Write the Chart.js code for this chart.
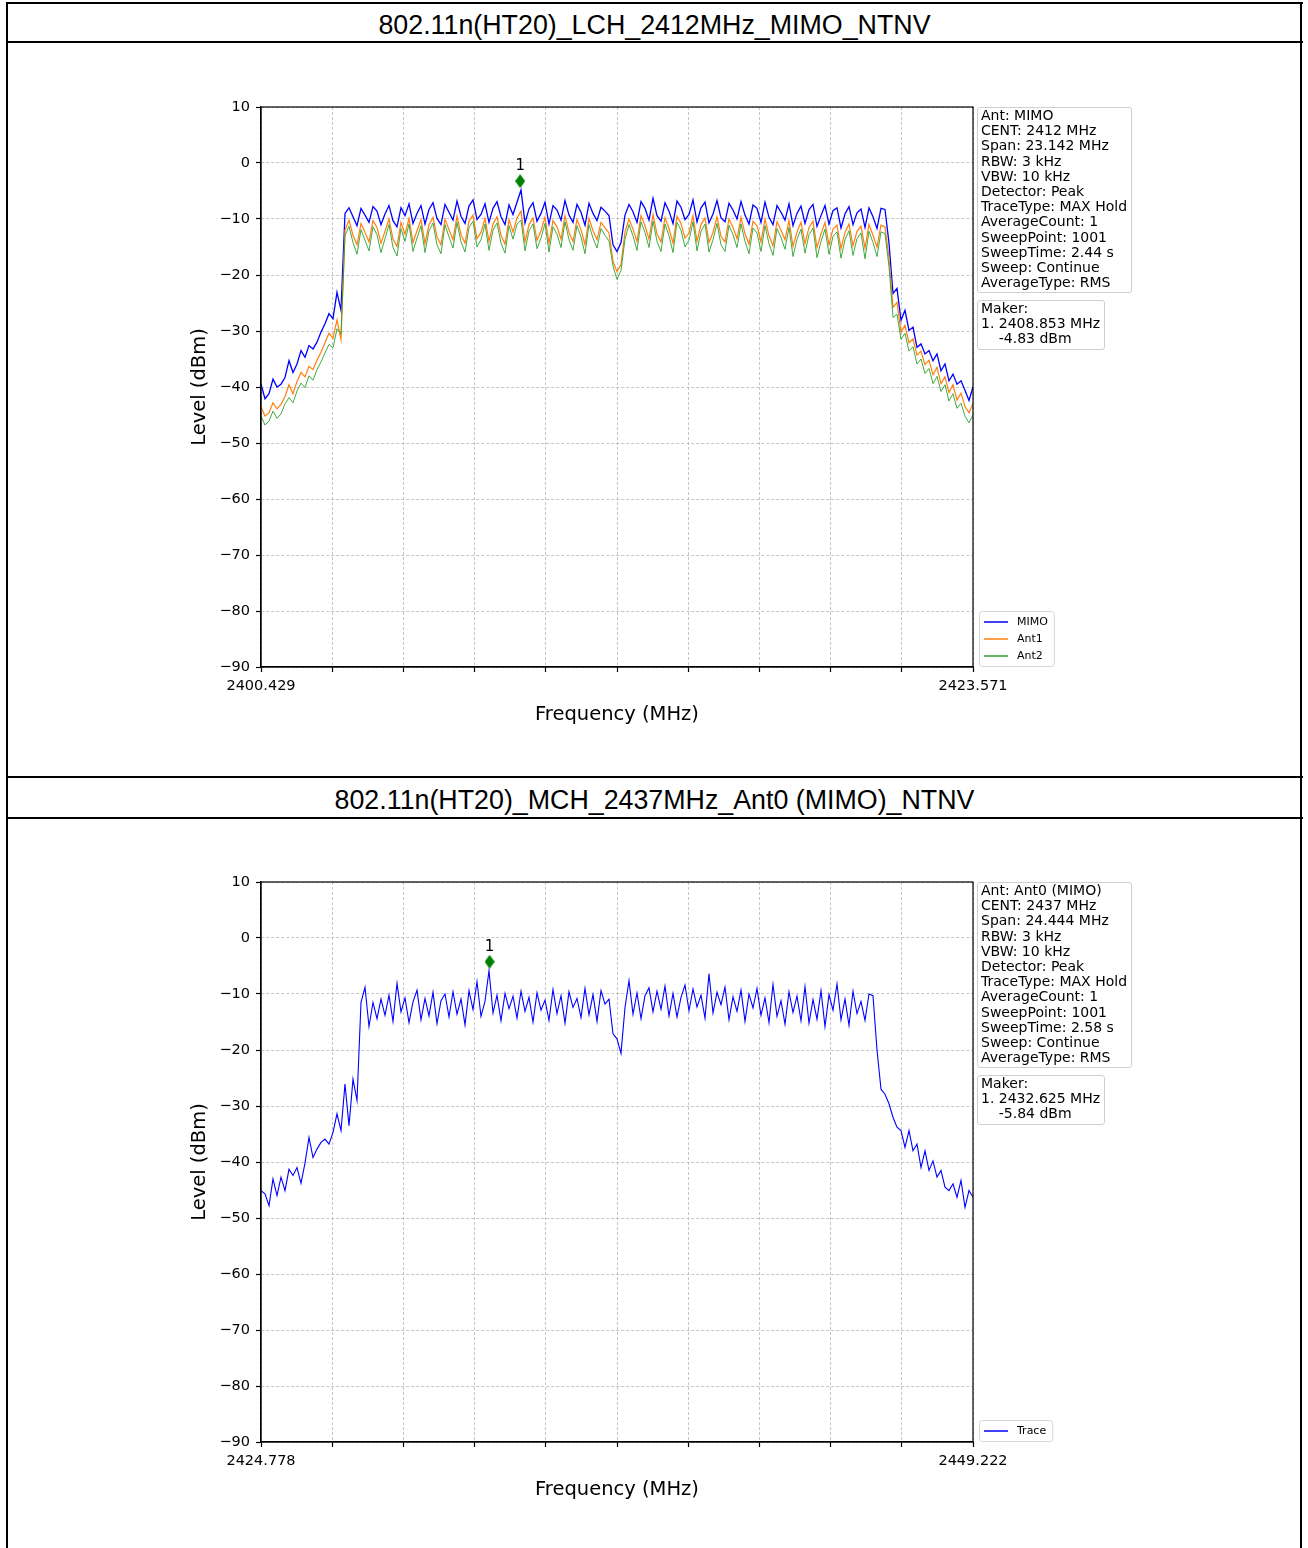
<!DOCTYPE html>
<html>
<head>
<meta charset="utf-8">
<script src="https://cdn.jsdelivr.net/npm/chart.js@4.4.1/dist/chart.umd.min.js"></script>
<style>
  body { margin: 0; width: 1308px; height: 1548px; overflow: hidden; background: #fff; position: relative; font-family: "DejaVu Sans", sans-serif; }
  .hline { position: absolute; left: 6px; width: 1297px; height: 2px; background: #000; }
  .vline { position: absolute; top: 2px; width: 2px; height: 1546px; background: #000; }
  .title { position: absolute; left: 8px; width: 1293px; height: 38px; line-height: 38px; text-align: center; font-family: "Liberation Sans", Arial, sans-serif; font-size: 26.8px; color: #000; }
  canvas { position: absolute; left: 8px; }
  .box { position: absolute; left: 977px; border: 1px solid #cfcfcf; border-radius: 3px; padding: 0 4px 2px 3px; font-size: 14px; line-height: 15.2px; white-space: pre; background: #fff; color: #000; }
</style>
</head>
<body>
<div class="hline" style="top:2px"></div>
<div class="hline" style="top:41px"></div>
<div class="hline" style="top:776px"></div>
<div class="hline" style="top:817px"></div>
<div class="vline" style="left:6px"></div>
<div class="vline" style="left:1300px"></div>

<div class="title" id="title1" style="top:6px"></div>
<canvas id="chart1" width="1293" height="731" style="top:45px"></canvas>
<div class="box" id="info1" style="top:107px"></div>
<div class="box" id="mark1" style="top:300px"></div>

<div class="title" id="title2" style="top:781px"></div>
<canvas id="chart2" width="1293" height="728" style="top:820px"></canvas>
<div class="box" id="info2" style="top:882px"></div>
<div class="box" id="mark2" style="top:1075px"></div>

<script>
// ---- chart 1 : LCH 2412 MHz, MIMO ----
const title1 = '802.11n(HT20)_LCH_2412MHz_MIMO_NTNV';
const freqRange1 = [2400.429, 2423.571];
const mimo1 = [
    -39.5, -42.1, -41.2, -38.6, -40.0, -39.5, -38.3, -35.3, -37.4, -35.9, -33.5, -34.7, -32.6, -33.2, -32.0, -30.2, -28.7, -26.9, -27.8, -23.1, -26.3,
    -9.0, -8.0, -9.6, -11.2, -8.1, -9.3, -10.6, -7.8, -8.6, -11.0,
    -9.1, -7.6, -10.3, -11.4, -8.0, -9.4, -7.3, -10.8, -9.0, -7.6,
    -10.9, -8.3, -7.1, -9.9, -11.0, -7.4, -8.8, -10.2, -6.8, -9.5,
    -10.8, -7.7, -6.6, -10.1, -9.2, -7.3, -10.6, -8.1, -6.9, -9.6,
    -11.0, -7.5, -9.2, -7.0, -4.83, -10.7, -8.2, -7.1, -10.4, -9.0,
    -7.0, -10.9, -7.6, -8.4, -10.2, -6.7, -9.3, -10.6, -7.4, -8.8,
    -11.1, -7.2, -9.0, -10.3, -7.9, -8.6, -9.4, -14.6, -15.8, -14.2,
    -9.3, -7.4, -8.7, -10.6, -6.9, -8.1, -10.2, -6.3, -9.4, -10.4,
    -7.1, -8.6, -10.8, -6.8, -7.9, -10.1, -9.2, -6.6, -10.5, -8.0,
    -7.0, -10.7, -9.1, -6.7, -9.8, -10.5, -7.2, -8.4, -10.0, -6.9,
    -9.3, -10.9, -7.5, -8.1, -10.6, -7.0, -9.7, -11.0, -7.6, -8.8,
    -10.2, -7.3, -11.2, -9.0, -7.7, -10.8, -8.3, -7.4, -11.3, -9.4,
    -7.6, -10.9, -8.5, -8.0, -11.6, -9.1, -7.8, -11.0, -8.9, -8.2,
    -11.5, -8.0, -9.6, -11.7, -8.1, -8.3, -14.3, -23.3, -22.4, -28.1,
    -26.3, -29.9, -29.3, -32.9, -32.3, -34.1, -33.5, -35.3, -34.1, -37.1,
    -35.9, -38.9, -37.7, -39.5, -38.9, -40.6, -42.4, -40.0
];
const ant1 = [
    -43.5, -45.2, -44.6, -42.8, -43.9, -43.1, -41.7, -39.6, -41.2, -39.0, -37.4, -38.2, -36.3, -36.9, -35.2, -33.8, -32.1, -30.4, -31.3, -28.0, -31.5,
    -12.0, -10.2, -12.9, -14.6, -10.8, -12.4, -14.1, -10.3, -11.5, -14.3,
    -12.2, -10.0, -13.6, -14.9, -10.6, -12.7, -9.9, -14.2, -12.1, -10.1,
    -14.4, -11.0, -9.7, -13.2, -14.6, -10.0, -11.9, -13.7, -9.5, -12.8,
    -14.3, -10.4, -9.3, -13.5, -12.4, -9.9, -14.0, -10.9, -9.6, -12.9,
    -14.5, -10.1, -12.3, -9.8, -8.6, -14.1, -11.0, -9.8, -13.8, -12.1,
    -9.7, -14.3, -10.3, -11.4, -13.6, -9.4, -12.4, -14.0, -10.1, -11.9,
    -14.6, -9.9, -12.1, -13.7, -10.6, -11.6, -12.5, -17.6, -19.4, -18.1,
    -12.3, -10.0, -11.8, -14.0, -9.4, -11.2, -13.6, -9.2, -12.7, -14.1,
    -9.8, -11.7, -14.3, -9.5, -10.8, -13.4, -12.5, -9.4, -14.0, -11.0,
    -9.8, -14.2, -12.4, -9.6, -13.1, -14.1, -10.0, -11.5, -13.5, -9.7,
    -12.6, -14.5, -10.4, -11.2, -14.1, -10.0, -13.0, -14.8, -10.5, -12.0,
    -13.7, -10.3, -14.9, -12.3, -10.6, -14.4, -11.5, -10.4, -15.1, -12.7,
    -10.6, -14.6, -11.8, -11.1, -15.3, -12.4, -10.9, -14.8, -12.2, -11.3,
    -15.2, -11.0, -12.9, -15.0, -11.1, -11.4, -17.0, -25.8, -24.9, -30.2,
    -29.0, -32.1, -31.4, -34.3, -33.6, -36.0, -35.2, -37.8, -36.5, -39.4,
    -38.2, -41.0, -39.6, -42.3, -41.1, -43.5, -44.6, -43.0
];
const ant2 = [
    -45.2, -46.8, -46.1, -44.3, -45.6, -44.8, -43.0, -41.9, -42.8, -40.7, -39.3, -40.1, -38.0, -38.8, -36.9, -35.5, -33.9, -32.4, -33.0, -29.6, -30.5,
    -13.0, -11.3, -14.2, -16.3, -11.9, -13.8, -15.7, -11.4, -12.8, -16.0,
    -13.5, -11.0, -15.1, -16.6, -11.7, -14.0, -10.9, -15.8, -13.4, -11.2,
    -16.0, -12.1, -10.7, -14.6, -16.2, -11.0, -13.2, -15.2, -10.6, -14.1,
    -15.9, -11.5, -10.4, -15.0, -13.7, -10.9, -15.6, -12.0, -10.7, -14.3,
    -16.1, -11.2, -13.6, -10.9, -10.2, -15.7, -12.1, -10.9, -15.3, -13.4,
    -10.8, -15.9, -11.4, -12.7, -15.1, -10.5, -13.7, -15.6, -11.2, -13.2,
    -16.2, -11.0, -13.4, -15.2, -11.7, -12.9, -13.9, -18.4, -20.8, -19.2,
    -13.6, -11.0, -13.0, -15.6, -10.5, -12.4, -15.1, -10.4, -14.0, -15.8,
    -10.9, -13.0, -16.0, -10.6, -12.0, -15.0, -13.8, -10.5, -15.7, -12.2,
    -10.9, -15.9, -13.7, -10.8, -14.6, -15.8, -11.1, -12.8, -15.1, -10.9,
    -14.0, -16.2, -11.6, -12.5, -15.8, -11.2, -14.4, -16.5, -11.7, -13.3,
    -15.4, -11.5, -16.7, -13.6, -11.8, -16.1, -12.8, -11.6, -16.9, -14.0,
    -11.8, -16.3, -13.1, -12.3, -17.0, -13.7, -12.1, -16.5, -13.5, -12.5,
    -17.1, -12.2, -14.2, -16.7, -12.3, -12.6, -18.5, -27.6, -27.0, -31.5,
    -30.4, -33.6, -32.8, -35.9, -35.0, -37.6, -36.7, -39.4, -38.1, -40.8,
    -39.6, -42.5, -41.2, -43.8, -42.9, -45.2, -46.4, -45.0
];
const marker1 = [2408.853, -4.83];
const info1 = ['Ant: MIMO', 'CENT: 2412 MHz', 'Span: 23.142 MHz', 'RBW: 3 kHz', 'VBW: 10 kHz', 'Detector: Peak',
    'TraceType: MAX Hold', 'AverageCount: 1', 'SweepPoint: 1001', 'SweepTime: 2.44 s', 'Sweep: Continue', 'AverageType: RMS'];

// ---- chart 2 : MCH 2437 MHz, Ant0 ----
const title2 = '802.11n(HT20)_MCH_2437MHz_Ant0 (MIMO)_NTNV';
const freqRange2 = [2424.778, 2449.222];
const trace2 = [
    -45.1, -45.7, -47.8, -43.0, -46.0, -42.7, -45.1, -41.3, -42.4, -41.0, -43.8, -40.2, -35.6, -39.2, -37.7, -36.5, -35.9, -36.8, -34.7, -31.4, -34.4, -26.1, -33.5, -25.2, -29.0,
    -11.5, -8.8, -15.8, -11.5, -14.4, -10.9, -13.8, -10.2, -14.9, -8.1,
    -13.2, -10.7, -15.1, -11.4, -9.3, -14.6, -10.8, -13.9, -9.7, -15.3,
    -11.2, -10.0, -14.1, -9.6, -13.6, -10.9, -15.5, -9.4, -12.8, -7.8,
    -14.0, -11.3, -5.84, -13.4, -10.2, -14.8, -9.9, -12.6, -10.4, -14.3,
    -9.5, -13.1, -10.6, -15.0, -9.8, -12.9, -11.1, -14.7, -9.2, -13.5,
    -10.3, -15.2, -9.6, -12.4, -10.8, -14.2, -9.0, -13.7, -10.1, -14.9,
    -9.4, -11.8, -10.9, -17.1, -18.0, -20.6, -12.4, -7.6, -13.6, -9.8,
    -14.4, -10.3, -8.9, -13.2, -9.5, -12.7, -8.6, -13.9, -9.9, -14.1,
    -10.6, -8.4, -13.0, -9.1, -12.3, -10.2, -14.3, -6.4, -13.4, -9.7,
    -11.9, -8.8, -14.6, -10.5, -13.1, -9.3, -14.9, -10.0, -12.5, -9.0,
    -13.8, -10.7, -15.1, -8.3, -14.0, -11.2, -15.4, -9.6, -13.3, -10.4,
    -14.8, -8.7, -15.2, -11.0, -14.5, -9.4, -15.8, -10.1, -12.9, -8.2,
    -14.6, -10.9, -15.6, -9.5, -13.5, -11.3, -14.7, -10.0, -10.3, -20.0,
    -27.0, -27.9, -29.6, -32.0, -33.8, -34.4, -37.4, -34.4, -38.0, -36.8,
    -41.0, -38.0, -41.5, -39.8, -42.7, -41.5, -44.5, -45.1, -43.9, -46.3,
    -43.3, -48.1, -45.1, -46.3
];
const marker2 = [2432.625, -5.84];
const info2 = ['Ant: Ant0 (MIMO)', 'CENT: 2437 MHz', 'Span: 24.444 MHz', 'RBW: 3 kHz', 'VBW: 10 kHz', 'Detector: Peak',
    'TraceType: MAX Hold', 'AverageCount: 1', 'SweepPoint: 1001', 'SweepTime: 2.58 s', 'Sweep: Continue', 'AverageType: RMS'];

const yTicks = [10, 0, -10, -20, -30, -40, -50, -60, -70, -80, -90];

Chart.defaults.font.family = '"DejaVu Sans", sans-serif';
Chart.defaults.color = '#000';

function makeDiamond(w, h, color) {
    const c = document.createElement('canvas');
    c.width = w;
    c.height = h;
    const g = c.getContext('2d');
    g.fillStyle = color;
    g.beginPath();
    g.moveTo(w / 2, 0);
    g.lineTo(w, h / 2);
    g.lineTo(w / 2, h);
    g.lineTo(0, h / 2);
    g.closePath();
    g.fill();
    return c;
}
const diamond = makeDiamond(10, 14, '#008000');

// frame round the plot + "1" over the marker
const framePlugin = {
    id: 'frame',
    afterDatasetsDraw(chart) {
        const ctx = chart.ctx;
        const a = chart.chartArea;
        ctx.save();
        ctx.strokeStyle = '#000';
        ctx.lineWidth = 1.2;
        ctx.strokeRect(a.left, a.top, a.right - a.left, a.bottom - a.top);
        const idx = chart.data.datasets.findIndex(d => d.label === '_marker');
        const pt = chart.getDatasetMeta(idx).data[0];
        ctx.fillStyle = '#000';
        ctx.font = '15px "DejaVu Sans"';
        ctx.textAlign = 'center';
        ctx.textBaseline = 'middle';
        ctx.fillText('1', pt.x, pt.y - 15);
        ctx.restore();
    }
};

const legendPlugin = {
    id: 'boxLegend',
    afterDraw(chart) {
        const items = chart.data.datasets.filter(d => !d.label.startsWith('_'));
        const ctx = chart.ctx;
        const a = chart.chartArea;
        ctx.save();
        ctx.font = '11px "DejaVu Sans"';
        const rowH = 17;
        const textW = Math.max(...items.map(d => ctx.measureText(d.label).width));
        const w = 38 + textW + 6;
        const h = items.length * rowH + 4;
        const x = a.right + 6;
        const y = a.bottom - h - 1;
        ctx.fillStyle = 'rgba(255,255,255,0.85)';
        ctx.strokeStyle = '#d6d6d6';
        ctx.lineWidth = 1;
        ctx.beginPath();
        ctx.roundRect(x + 0.5, y + 0.5, w, h, 3);
        ctx.fill();
        ctx.stroke();
        items.forEach((d, k) => {
            const cy = y + 2.5 + rowH * (k + 0.5);
            ctx.strokeStyle = d.borderColor;
            ctx.lineWidth = 1.5;
            ctx.beginPath();
            ctx.moveTo(x + 5, cy);
            ctx.lineTo(x + 29, cy);
            ctx.stroke();
            ctx.fillStyle = '#000';
            ctx.textBaseline = 'middle';
            ctx.fillText(d.label, x + 38, cy);
        });
        ctx.restore();
    }
};

function axisGrid() {
    return {
        color: '#b8b8b8',
        lineWidth: 0.8,
        tickColor: '#000',
        tickLength: 5,
        tickWidth: 1.2,
        tickBorderDash: []
    };
}

function dessineSpectre(canvasId, range, traces, marker, padBottom) {
    const [fmin, fmax] = range;
    const step = (fmax - fmin) / (traces[0].values.length - 1);

    const datasets = traces.map(t => ({
        label: t.label,
        data: t.values.map((v, i) => ({ x: fmin + i * step, y: v })),
        borderColor: t.color,
        borderWidth: t.width,
        pointRadius: 0,
        tension: 0,
        fill: false,
        order: t.order
    }));
    datasets.push({
        label: '_marker',
        data: [{ x: marker[0], y: marker[1] + 1.6 }],
        showLine: false,
        pointStyle: diamond,
        pointRadius: 7,
        order: 0
    });

    return new Chart(document.getElementById(canvasId).getContext('2d'), {
        type: 'line',
        data: { datasets: datasets },
        options: {
            responsive: false,
            animation: false,
            events: [],
            layout: { padding: { left: 180, top: 62, right: 328, bottom: padBottom } },
            plugins: { legend: { display: false }, tooltip: { enabled: false } },
            scales: {
                x: {
                    type: 'linear',
                    min: fmin,
                    max: fmax,
                    afterBuildTicks: s => {
                        s.ticks = [];
                        for (let k = 0; k <= 10; k++) s.ticks.push({ value: fmin + k * (fmax - fmin) / 10 });
                    },
                    afterFit: s => { s.height = 60; },
                    ticks: {
                        autoSkip: false,
                        maxRotation: 0,
                        padding: 6,
                        font: { size: 14.5 },
                        callback: (v, i) => (i === 0 || i === 10) ? Number(v).toFixed(3) : ''
                    },
                    grid: axisGrid(),
                    border: { color: '#000', width: 1.2, dash: [3, 2] },
                    title: { display: true, text: 'Frequency (MHz)', font: { size: 19.5 }, padding: 0 }
                },
                y: {
                    min: -90,
                    max: 10,
                    afterBuildTicks: s => { s.ticks = yTicks.map(v => ({ value: v })); },
                    afterFit: s => { s.width = 73; },
                    ticks: {
                        padding: 6,
                        font: { size: 14.5 },
                        callback: v => v < 0 ? '\u2212' + Math.abs(v) : String(v)
                    },
                    grid: axisGrid(),
                    border: { color: '#000', width: 1.2, dash: [3, 2] },
                    title: { display: true, text: 'Level (dBm)', font: { size: 19.5 }, padding: 0 }
                }
            }
        },
        plugins: [framePlugin, legendPlugin]
    });
}

function remplitBoites(titleId, infoId, markId, title, info, marker) {
    document.getElementById(titleId).textContent = title;
    document.getElementById(infoId).textContent = info.join('\n');
    document.getElementById(markId).textContent =
        'Maker:\n1. ' + marker[0].toFixed(3) + ' MHz\n    ' + marker[1].toFixed(2) + ' dBm';
}

remplitBoites('title1', 'info1', 'mark1', title1, info1, marker1);
remplitBoites('title2', 'info2', 'mark2', title2, info2, marker2);

dessineSpectre('chart1', freqRange1, [
    { label: 'MIMO', values: mimo1, color: '#0000ff', width: 1.3, order: 3 },
    { label: 'Ant1', values: ant1, color: '#ff7f0e', width: 1.2, order: 2 },
    { label: 'Ant2', values: ant2, color: '#2ca02c', width: 0.9, order: 1 }
], marker1, 49);

dessineSpectre('chart2', freqRange2, [
    { label: 'Trace', values: trace2, color: '#0000ff', width: 1.1, order: 1 }
], marker2, 46);
</script>
</body>
</html>
